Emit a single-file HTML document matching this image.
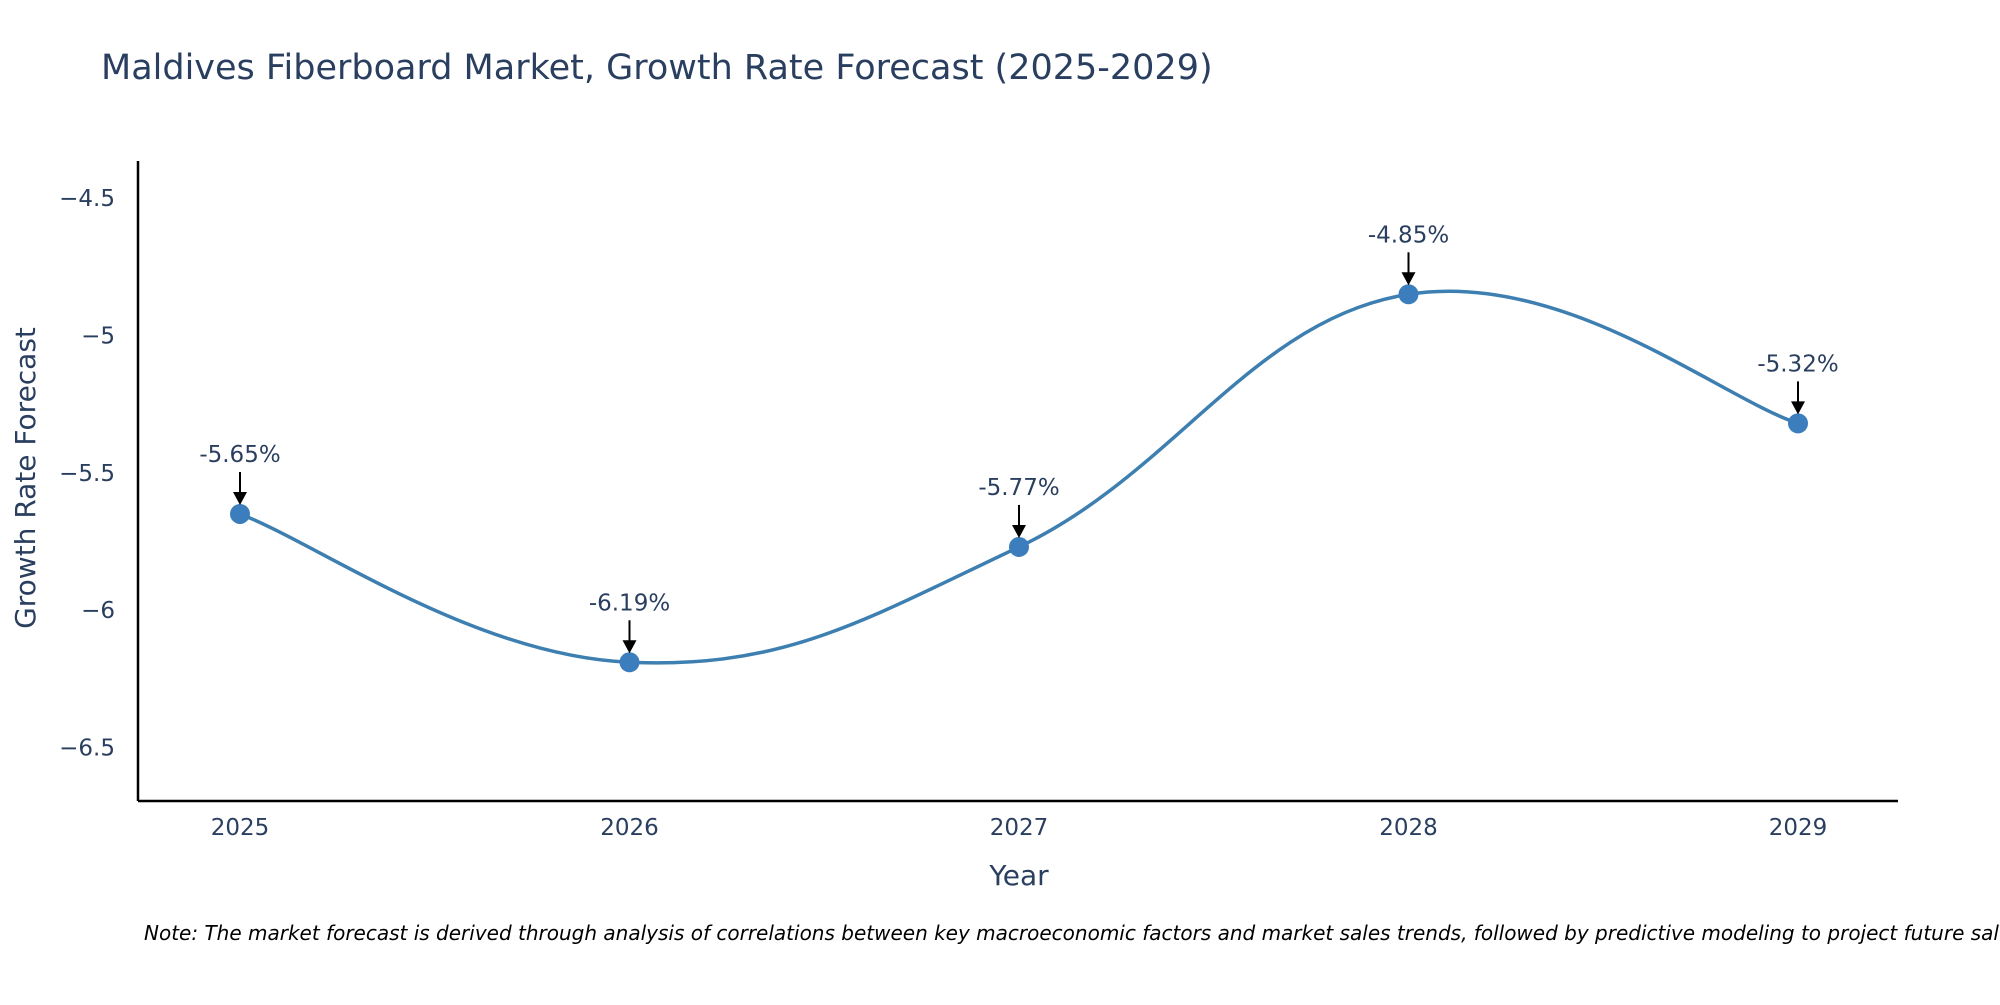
<!DOCTYPE html>
<html><head><meta charset="utf-8"><style>
body{margin:0;background:#fff;}
svg text{font-family:"DejaVu Sans","Liberation Sans",sans-serif;fill:#2a3f5f;}
</style></head><body>
<svg width="2000" height="1000" viewBox="0 0 2000 1000" xmlns="http://www.w3.org/2000/svg">
<rect width="2000" height="1000" fill="#fff"/>
<text x="101" y="79" font-size="35">Maldives Fiberboard Market, Growth Rate Forecast (2025-2029)</text>
<g id="yticks"></g>
<g id="xticks"></g>
<line x1="138" y1="161" x2="138" y2="801" stroke="#000" stroke-width="2.5"/>
<line x1="138" y1="801" x2="1898" y2="801" stroke="#000" stroke-width="2.5"/>
<text x="1019" y="885" font-size="28" text-anchor="middle">Year</text>
<text x="0" y="0" font-size="28" text-anchor="middle" transform="translate(35,478) rotate(-90)">Growth Rate Forecast</text>
<g id="series"></g>
<text x="144" y="940" font-size="20" font-style="italic" style="fill:#000">Note: The market forecast is derived through analysis of correlations between key macroeconomic factors and market sales trends, followed by predictive modeling to project future sales.</text>
</svg>
<script>
const categories = ["2025","2026","2027","2028","2029"];
const values = [-5.65,-6.19,-5.77,-4.85,-5.32];
const labels = ["-5.65%","-6.19%","-5.77%","-4.85%","-5.32%"];
const yTicks = [-4.5,-5,-5.5,-6,-6.5];
const yTickLabels = ["\u22124.5","\u22125","\u22125.5","\u22126","\u22126.5"];
const NS="http://www.w3.org/2000/svg";
function xScale(i){return 240+i*(1798-240)/4;}
function yScale(v){return 335.5+(-5-v)*274.6;}
function mk(tag,attrs,parent){const e=document.createElementNS(NS,tag);for(const k in attrs)e.setAttribute(k,attrs[k]);parent.appendChild(e);return e;}
const yt=document.getElementById('yticks');
yTicks.forEach((v,i)=>{const t=mk('text',{x:115,y:yScale(v)+8,'font-size':23,'text-anchor':'end'},yt);


t.textContent=yTickLabels[i];});
const xt=document.getElementById('xticks');
categories.forEach((c,i)=>{const t=mk('text',{x:xScale(i),y:835,'font-size':23,'text-anchor':'middle'},xt);


t.textContent=c;});
const g=document.getElementById('series');
const pts=values.map((v,i)=>[xScale(i),yScale(v)]);
let d=`M${pts[0][0]},${pts[0][1]}`;
const tension=0.2;
for(let i=0;i<pts.length-1;i++){
 const p0=pts[Math.max(0,i-1)],p1=pts[i],p2=pts[i+1],p3=pts[Math.min(pts.length-1,i+2)];
 const c1=[p1[0]+(p2[0]-p0[0])*tension,p1[1]+(p2[1]-p0[1])*tension];
 const c2=[p2[0]-(p3[0]-p1[0])*tension,p2[1]-(p3[1]-p1[1])*tension];
 d+=` C${c1[0]},${c1[1]} ${c2[0]},${c2[1]} ${p2[0]},${p2[1]}`;
}
const line=mk('path',{d:d,fill:'none',stroke:'#3d7fb0','stroke-width':3.5},g);


pts.forEach((p,i)=>{
 const c=mk('circle',{cx:p[0],cy:p[1],r:10,fill:'#3b7dbd'},g);
 
 
 const l=mk('line',{x1:p[0],y1:p[1]-42,x2:p[0],y2:p[1]-20,stroke:'#000','stroke-width':2},g);
 
 
 const a=mk('polygon',{points:`${p[0]-7},${p[1]-22} ${p[0]+7},${p[1]-22} ${p[0]},${p[1]-9}`,fill:'#000'},g);
 
 
 const t=mk('text',{x:p[0],y:p[1]-52,'font-size':23,'text-anchor':'middle'},g);
 
 
 t.textContent=labels[i];
});
</script>
</body></html>
